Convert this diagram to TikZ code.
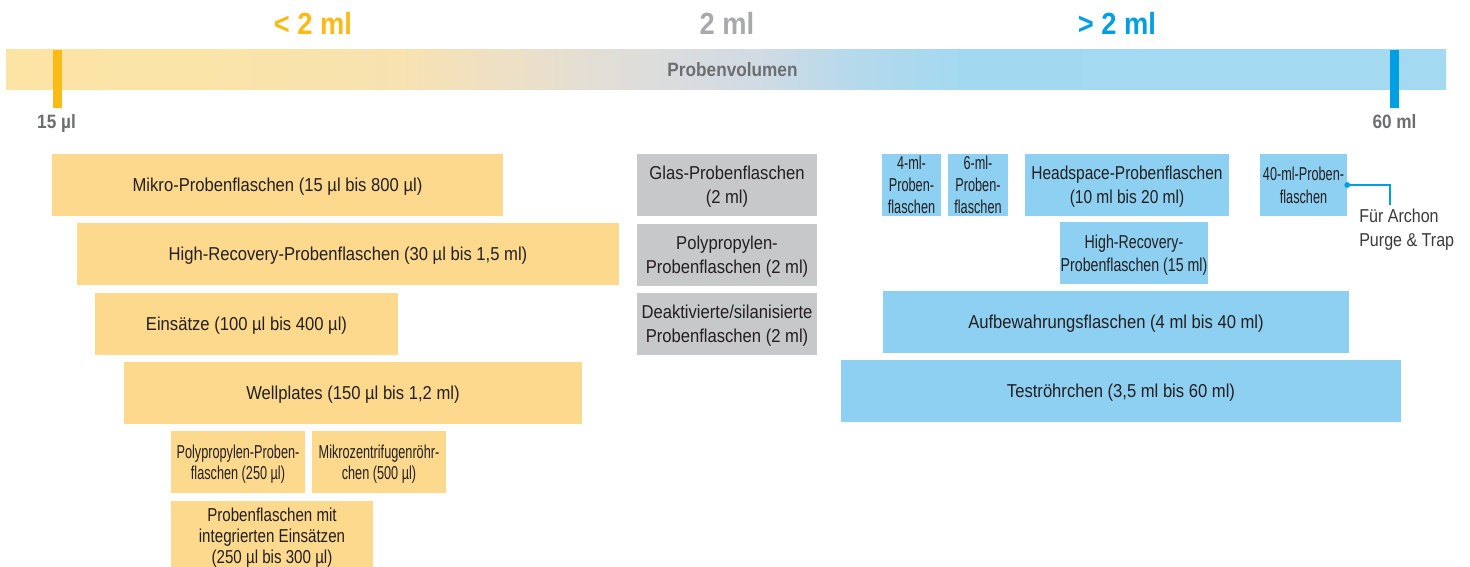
\documentclass[tikz,border=0pt]{standalone}
\usepackage{fontspec}
\setmainfont{Liberation Sans}[FakeStretch=0.89]
\newfontfamily\fhead{Liberation Sans}[FakeStretch=0.83]
\newfontfamily\fann{Liberation Sans}[FakeStretch=0.86]
\newfontfamily\fmid{Liberation Sans}[FakeStretch=0.76]
\newfontfamily\fint{Liberation Sans}[FakeStretch=0.81]
\newfontfamily\fnar{Liberation Sans}[FakeStretch=0.68]
\definecolor{hdrY}{HTML}{FBBA16}
\definecolor{hdrG}{HTML}{A7A9AC}
\definecolor{hdrB}{HTML}{009FE3}
\definecolor{lblG}{HTML}{6D6E71}
\definecolor{boxY}{HTML}{FDD98E}
\definecolor{boxG}{HTML}{C7C8CA}
\definecolor{boxB}{HTML}{8ED0F1}
\definecolor{txt}{HTML}{231F20}
\definecolor{txtB}{HTML}{3A3A3A}
\definecolor{b0}{RGB}{252,228,165}
\definecolor{b1}{RGB}{251,228,168}
\definecolor{b2}{RGB}{247,226,176}
\definecolor{b3}{RGB}{238,224,196}
\definecolor{b4}{RGB}{226,222,214}
\definecolor{b5}{RGB}{218,220,223}
\definecolor{b6}{RGB}{208,219,228}
\definecolor{b7}{RGB}{180,217,236}
\definecolor{b8}{RGB}{163,217,240}
\definecolor{b9}{RGB}{163,218,242}
\pgfdeclarehorizontalshading{probebar}{100bp}{color(0bp)=(b0); color(25bp)=(b0); color(31.74bp)=(b1); color(38.68bp)=(b2); color(42.15bp)=(b3); color(45.63bp)=(b4); color(48.4bp)=(b5); color(51.18bp)=(b6); color(54.65bp)=(b7); color(58.13bp)=(b8); color(75bp)=(b9); color(100bp)=(b9)}
\tikzset{
  base/.style={inner sep=0pt, minimum height=62*0.75pt, align=center, text=txt,
    text depth=0pt, font=\fontsize{14}{18}\selectfont},
  ybox/.style={base, fill=boxY},
  gbox/.style={base, fill=boxG},
  bbox/.style={base, fill=boxB},
  wd/.style={minimum width=#1*0.75pt},
  hdr/.style={font=\bfseries\fontsize{23}{26}\selectfont, anchor=base, inner sep=0pt},
  lbl/.style={font=\bfseries\fontsize{14.5}{17}\selectfont, text=lblG, anchor=base, inner sep=0pt},
  conn/.style={draw=hdrB, line width=0.9pt},
}
\begin{document}
\begin{tikzpicture}[x=0.75pt,y=-0.75pt]
\useasboundingbox (0,0) rectangle (1470,567);
% scale bar
\fill[shading=probebar] (6,50) rectangle (1446,90);
\fill[hdrY] (53,50) rectangle (62,108);
\fill[hdrB] (1390,50) rectangle (1399,108);
\node[hdr, text=hdrY] (lt) at (313,35) {< 2 ml};
\node[hdr, text=hdrG] (eq) at (727,35) {2 ml};
\node[hdr, text=hdrB] (gt) at (1117,35) {> 2 ml};
\node[lbl] (pv) at (732.5,77) {Probenvolumen};
\node[lbl] (min) at (56.5,128) {15 µl};
\node[lbl] (max) at (1394.5,128) {60 ml};
% left column
\node[ybox, wd=451] (mikro) at (277.5,185) {Mikro-Probenflaschen (15 µl bis 800 µl)};
\node[ybox, wd=542] (hrec) at (348,254) {High-Recovery-Probenflaschen (30 µl bis 1,5 ml)};
\node[ybox, wd=303] (eins) at (246.5,323.5) {Einsätze (100 µl bis 400 µl)};
\node[ybox, wd=458] (well) at (353,392.5) {Wellplates (150 µl bis 1,2 ml)};
\node[ybox, wd=134, font=\fnar\fontsize{14}{16}\selectfont] (ppsm) at (238,462) {Polypropylen-Proben-\\flaschen (250 µl)};
\node[ybox, wd=134, font=\fnar\fontsize{14}{16}\selectfont] (mzr) at (379,462) {Mikrozentrifugenröhr-\\chen (500 µl)};
\node[ybox, wd=202, minimum height=70*0.75pt, font=\fint\fontsize{14}{15.75}\selectfont] (integ) at (272,536) {Probenflaschen mit\\integrierten Einsätzen\\(250 µl bis 300 µl)};
% middle column
\node[gbox, wd=180] (glas) at (727,185) {Glas-Probenflaschen\\(2 ml)};
\node[gbox, wd=180] (ppm) at (727,254.5) {Polypropylen-\\Probenflaschen (2 ml)};
\node[gbox, wd=180] (deak) at (727,323.5) {Deaktivierte/silanisierte\\Probenflaschen (2 ml)};
% right column
\node[bbox, wd=59, font=\fnar\fontsize{14}{16.5}\selectfont] (m4) at (911.5,185) {4-ml-\\Proben-\\flaschen};
\node[bbox, wd=60, font=\fnar\fontsize{14}{16.5}\selectfont] (m6) at (978,185) {6-ml-\\Proben-\\flaschen};
\node[bbox, wd=204, font=\fhead\fontsize{14}{18}\selectfont] (head) at (1127,185) {Headspace-Probenflaschen\\(10 ml bis 20 ml)};
\node[bbox, wd=87, font=\fnar\fontsize{14}{17.5}\selectfont] (m40) at (1303.5,185) {40-ml-Proben-\\flaschen};
\node[bbox, wd=148, font=\fmid\fontsize{14}{17}\selectfont] (hr15) at (1134,253) {High-Recovery-\\Probenflaschen (15 ml)};
\node[bbox, wd=466] (aufb) at (1116,322) {Aufbewahrungsflaschen (4 ml bis 40 ml)};
\node[bbox, wd=560] (test) at (1121,391) {Teströhrchen (3,5 ml bis 60 ml)};
% annotation
\coordinate (arch) at (1390,205);
\draw[conn] (m40.east) -| (arch);
\fill[hdrB] (m40.east) circle (2.2pt);
\node[anchor=north west, inner sep=0pt, align=left, text=txtB, font=\fann\fontsize{14}{18}\selectfont] (archon) at (1359,209) {Für Archon\\Purge \& Trap};
\end{tikzpicture}
\end{document}
